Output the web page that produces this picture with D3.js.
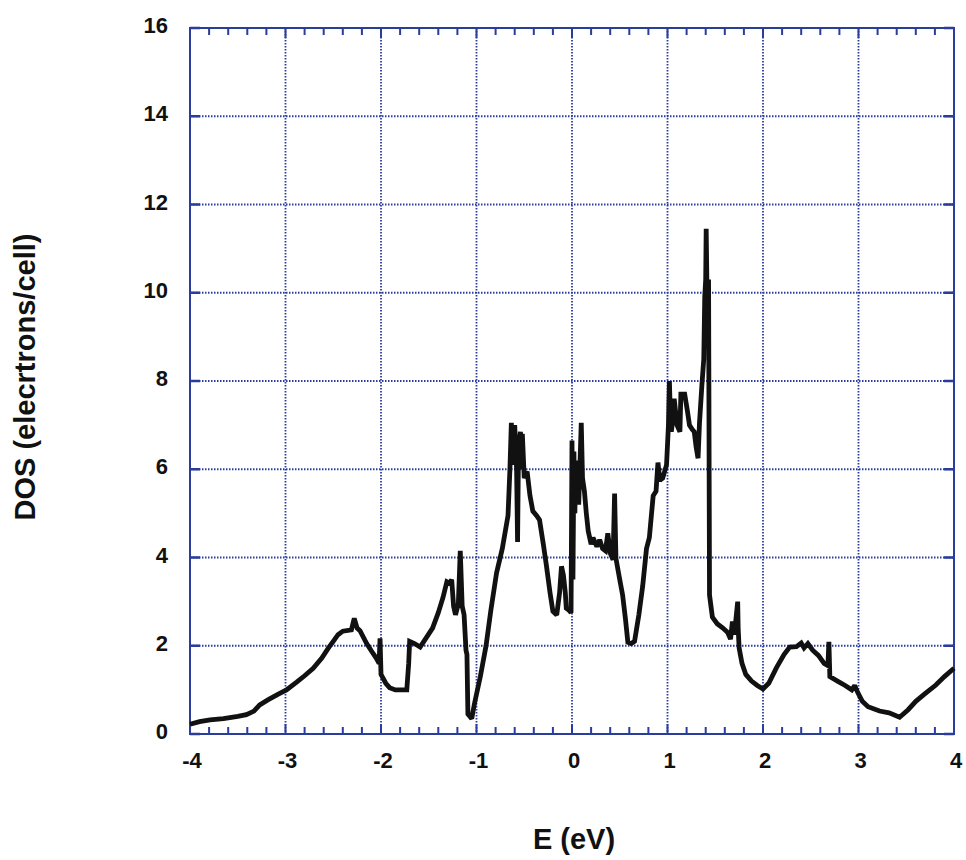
<!DOCTYPE html>
<head>
    <meta charset="utf-8">
    <title>DOS</title>
</head>
<script src="https://d3js.org/d3.v7.min.js"></script>

<div id="graph"></div>

<script>
    // energy (eV) and DOS values
    var energy = [-4.00,-3.90,-3.79,-3.65,-3.50,-3.41,-3.33,-3.27,-3.18,-3.08,-2.99,-2.88,-2.80,-2.71,-2.62,-2.55,-2.50,-2.45,-2.40,-2.31,-2.28,-2.25,-2.22,-2.15,-2.10,-2.05,-2.02,-2.01,-2.00,-1.95,-1.91,-1.85,-1.73,-1.71,-1.70,-1.65,-1.59,-1.52,-1.46,-1.40,-1.35,-1.31,-1.28,-1.26,-1.24,-1.22,-1.19,-1.17,-1.15,-1.13,-1.11,-1.10,-1.09,-1.05,-1.02,-0.96,-0.90,-0.85,-0.79,-0.73,-0.67,-0.65,-0.635,-0.62,-0.61,-0.60,-0.58,-0.57,-0.56,-0.54,-0.53,-0.52,-0.50,-0.47,-0.44,-0.41,-0.37,-0.34,-0.30,-0.27,-0.23,-0.20,-0.16,-0.13,-0.11,-0.09,-0.07,-0.06,-0.03,-0.01,0.00,0.01,0.02,0.03,0.04,0.05,0.07,0.097,0.11,0.13,0.15,0.17,0.20,0.22,0.26,0.29,0.32,0.35,0.375,0.40,0.43,0.446,0.46,0.50,0.53,0.56,0.585,0.62,0.655,0.70,0.74,0.78,0.81,0.85,0.88,0.90,0.92,0.95,0.99,1.01,1.02,1.03,1.04,1.06,1.07,1.10,1.13,1.14,1.18,1.21,1.23,1.26,1.28,1.30,1.32,1.335,1.36,1.38,1.39,1.40,1.405,1.415,1.42,1.43,1.44,1.47,1.52,1.58,1.63,1.66,1.68,1.70,1.735,1.74,1.75,1.78,1.82,1.88,1.94,2.00,2.06,2.14,2.22,2.28,2.35,2.40,2.43,2.47,2.52,2.58,2.64,2.68,2.69,2.70,2.78,2.86,2.93,2.96,2.99,3.04,3.10,3.22,3.32,3.43,3.52,3.60,3.70,3.81,3.90,4.00];
    var dos = [0.22,0.28,0.32,0.35,0.40,0.44,0.52,0.66,0.78,0.90,1.00,1.18,1.32,1.49,1.72,1.95,2.10,2.25,2.33,2.36,2.62,2.40,2.34,2.05,1.88,1.72,1.60,2.17,1.35,1.15,1.05,1.00,1.00,1.60,2.10,2.05,1.97,2.20,2.40,2.75,3.10,3.45,3.42,3.50,2.90,2.70,2.95,4.15,2.90,2.70,1.90,1.80,0.45,0.35,0.70,1.30,2.00,2.80,3.65,4.20,4.95,6.00,7.05,6.10,6.70,7.00,6.00,4.35,6.50,6.85,6.00,6.80,5.80,5.95,5.40,5.05,4.95,4.85,4.30,3.85,3.20,2.78,2.70,3.20,3.80,3.60,3.20,2.85,2.80,2.75,6.65,3.50,6.40,5.00,6.20,6.00,5.20,7.05,5.80,5.50,5.00,4.60,4.30,4.45,4.25,4.40,4.20,4.15,4.55,4.10,3.95,5.45,3.98,3.50,3.15,2.60,2.08,2.05,2.10,2.70,3.35,4.20,4.45,5.40,5.50,6.15,5.75,5.80,6.10,7.00,8.00,7.20,6.85,7.20,7.60,7.00,6.85,7.70,7.70,7.30,7.00,6.90,6.85,6.50,6.25,7.05,7.90,8.50,9.90,10.30,11.45,9.80,10.00,10.30,3.15,2.65,2.50,2.40,2.30,2.15,2.55,2.25,3.00,2.40,1.95,1.60,1.35,1.20,1.10,1.02,1.15,1.50,1.80,1.97,1.98,2.06,1.95,2.05,1.90,1.78,1.60,1.55,2.09,1.30,1.20,1.10,1.00,1.10,0.95,0.74,0.62,0.52,0.48,0.38,0.55,0.74,0.92,1.11,1.30,1.49];

    var xTicks = [-4, -3, -2, -1, 0, 1, 2, 3, 4];
    var yTicks = [0, 2, 4, 6, 8, 10, 12, 14, 16];

    var blue = "#2a3d9c";

    var margin = {top: 28, right: 12, bottom: 126, left: 190},
        width = 954 - margin.left,
        height = 734 - margin.top;

    var svg = d3.select("#graph")
        .append("svg")
            .attr("width", 966)
            .attr("height", 860)
        .append("g")
            .attr("transform", "translate(" + margin.left + "," + margin.top + ")");

    var x = d3.scaleLinear().domain([-4, 4]).range([0, width]);
    var y = d3.scaleLinear().domain([0, 16]).range([height, 0]);

    // dotted grid
    svg.selectAll(".vgrid")
        .data(xTicks.slice(1, -1))
        .enter()
        .append("line")
            .attr("x1", function(d) { return x(d); })
            .attr("x2", function(d) { return x(d); })
            .attr("y1", 0)
            .attr("y2", height)
            .attr("stroke", blue)
            .attr("stroke-width", 1.8)
            .attr("stroke-dasharray", "1.5,1.5");

    svg.selectAll(".hgrid")
        .data(yTicks.slice(1, -1))
        .enter()
        .append("line")
            .attr("x1", 0)
            .attr("x2", width)
            .attr("y1", function(d) { return y(d); })
            .attr("y2", function(d) { return y(d); })
            .attr("stroke", blue)
            .attr("stroke-width", 1.8)
            .attr("stroke-dasharray", "1.5,1.5");

    // ticks pointing inwards, minor ones every 0.2 on x
    var minor = d3.range(-4, 4.001, 0.2);
    svg.selectAll(".xtick")
        .data(minor)
        .enter()
        .append("path")
            .attr("d", function(d) {
                var len = Math.abs(d - Math.round(d)) < 1e-6 ? 10 : 7;
                var px = x(d);
                return "M" + px + "," + height + "v" + (-len) + "M" + px + ",0v" + len;
            })
            .attr("stroke", blue)
            .attr("stroke-width", 2);

    svg.selectAll(".ytick")
        .data(yTicks)
        .enter()
        .append("path")
            .attr("d", function(d) {
                var py = y(d);
                return "M0," + py + "h10M" + width + "," + py + "h-10";
            })
            .attr("stroke", blue)
            .attr("stroke-width", 2.5);

    // frame
    svg.append("rect")
        .attr("width", width)
        .attr("height", height)
        .attr("fill", "none")
        .attr("stroke", blue)
        .attr("stroke-width", 2);

    // tick labels
    svg.selectAll(".xlab")
        .data(xTicks)
        .enter()
        .append("text")
            .attr("x", function(d) { return x(d) + 2; })
            .attr("y", height + 34)
            .attr("text-anchor", "middle")
            .text(function(d) { return d; })
            .attr("class", "tick");

    svg.selectAll(".ylab")
        .data(yTicks)
        .enter()
        .append("text")
            .attr("x", -22)
            .attr("y", function(d) { return y(d) + 5; })
            .attr("text-anchor", "end")
            .text(function(d) { return d; })
            .attr("class", "tick");

    // the curve
    var line = d3.line()
        .x(function(d) { return x(energy[d]); })
        .y(function(d) { return y(dos[d]); });

    svg.append("path")
        .datum(d3.range(energy.length))
        .attr("d", line)
        .attr("fill", "none")
        .attr("stroke", "#111")
        .attr("stroke-width", 4.8)
        .attr("stroke-linejoin", "miter")
        .attr("stroke-miterlimit", 2);

    // axis titles
    svg.append("text")
        .attr("x", x(0) + 2)
        .attr("y", height + 115)
        .attr("text-anchor", "middle")
        .attr("class", "title")
        .text("E (eV)");

    svg.append("text")
        .attr("transform", "translate(" + (-155) + "," + (height / 2 - 4) + ") rotate(-90)")
        .attr("text-anchor", "middle")
        .attr("class", "title")
        .text("DOS (elecrtrons/cell)");
</script>

<style>
    html, body {
        margin: 0;
        padding: 0;
        background-color: white;
    }
    text {
        font-family: "Liberation Sans", Arial, sans-serif;
        font-weight: bold;
        fill: #111;
    }
    .tick {
        font-size: 22px;
    }
    .title {
        font-size: 29px;
    }
</style>
